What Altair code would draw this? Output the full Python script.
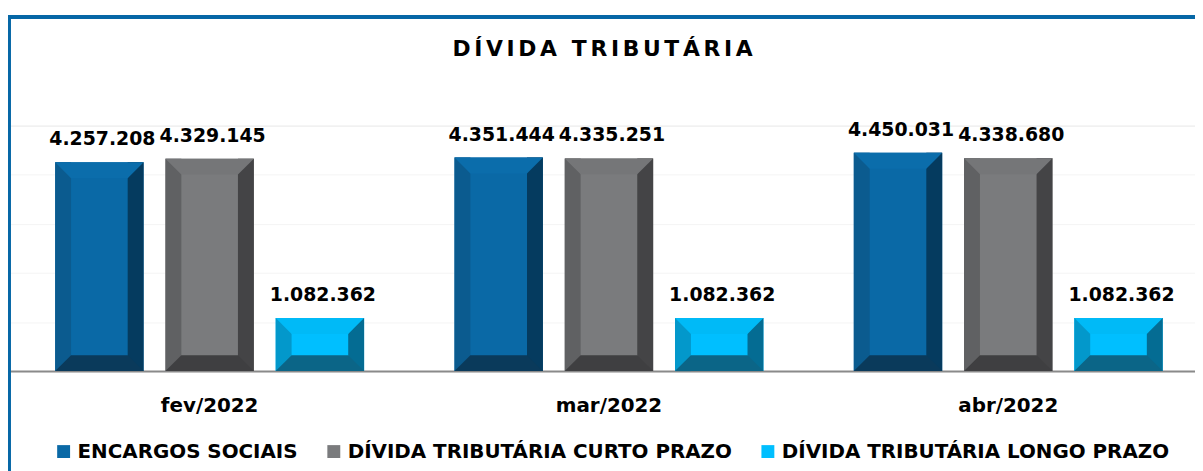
import altair as alt
import pandas as pd

# ---- data ----
months = ["fev/2022", "mar/2022", "abr/2022"]
series = ["ENCARGOS SOCIAIS", "DÍVIDA TRIBUTÁRIA CURTO PRAZO", "DÍVIDA TRIBUTÁRIA LONGO PRAZO"]
encargos_sociais = [4257208, 4351444, 4450031]
divida_curto = [4329145, 4335251, 4338680]
divida_longo = [1082362, 1082362, 1082362]
title_text = "DÍVIDA TRIBUTÁRIA"

values_by_series = [encargos_sociais, divida_curto, divida_longo]

rows = []
for s, vals in zip(series, values_by_series):
    for m, v in zip(months, vals):
        rows.append({"month": m, "series": s, "value": v,
                     "label": f"{v:,}".replace(",", ".")})
df = pd.DataFrame(rows)

# ---- style ----
FONT = "DejaVu Sans"
W, H = 1193, 247
YMAX = 5_000_000
BAR = 89
BEV = 16
center_col = ["#0A69A6", "#7A7B7D", "#00BFFF"]
left_col = ["#0B5B8F", "#606163", "#0398CB"]
right_col = ["#053B5F", "#444446", "#046C93"]
top_col = ["#0B6DAB", "#757678", "#00BAF7"]
bottom_col = ["#0A3A5B", "#3F3F41", "#0B6587"]
group_offsets = [-111, 0, 111]

xenc = alt.X("month:N", sort=months, title=None,
             scale=alt.Scale(domain=months, range=[0, 1206], paddingInner=0, paddingOuter=0),
             axis=alt.Axis(labelAngle=0, ticks=False, domainColor="#8A8A8A", domainWidth=2,
                           labelFont=FONT, labelFontSize=20, labelFontWeight="bold",
                           labelColor="#000000", labelPadding=25, grid=False))
yscale = alt.Scale(domain=[0, YMAX], nice=False)
yaxis = alt.Axis(values=[1_000_000, 2_000_000, 3_000_000, 4_000_000, 5_000_000],
                 labels=False, ticks=False, domain=False, grid=True,
                 gridColor="#F4F4F4", gridWidth=1, title=None)

top_path = "M -1 0 L 1 0 L 0.64 0.36 L -0.64 0.36 Z"
bot_path = "M -1 0 L 1 0 L 0.64 -0.36 L -0.64 -0.36 Z"

layers = []
for i, s in enumerate(series):
    off = group_offsets[i]
    base = alt.Chart(df).transform_filter(alt.datum.series == s).transform_calculate(
        zero="0")
    full = base.mark_bar(size=BAR, xOffset=off).encode(
        x=xenc,
        y=alt.Y("value:Q", scale=yscale, axis=yaxis),
        y2=alt.Y2("zero:Q"),
        color=alt.Color("series:N", scale=alt.Scale(domain=series, range=center_col),
                        legend=alt.Legend(title=None, orient="none", legendX=44, legendY=318,
                                          direction="horizontal", columns=3,
                                          symbolType="square", symbolSize=169,
                                          symbolStrokeWidth=0, symbolOpacity=1,
                                          labelFont=FONT, labelFontSize=20,
                                          labelFontWeight="bold", labelColor="#000000",
                                          labelOffset=4, columnPadding=26, padding=0,
                                          labelLimit=600)),
    )
    left = base.mark_bar(size=BEV, xOffset=off - (BAR - BEV) / 2, color=left_col[i]).encode(
        x=xenc, y=alt.Y("value:Q", scale=yscale, axis=yaxis), y2=alt.Y2("zero:Q"))
    right = base.mark_bar(size=BEV, xOffset=off + (BAR - BEV) / 2, color=right_col[i]).encode(
        x=xenc, y=alt.Y("value:Q", scale=yscale, axis=yaxis), y2=alt.Y2("zero:Q"))
    topb = base.mark_point(shape=top_path, size=BAR * BAR, filled=True, opacity=1,
                           strokeWidth=0, color=top_col[i], xOffset=off).encode(
        x=xenc, y=alt.Y("value:Q", scale=yscale, axis=yaxis))
    botb = base.mark_point(shape=bot_path, size=BAR * BAR, filled=True, opacity=1,
                           strokeWidth=0, color=bottom_col[i], xOffset=off).encode(
        x=xenc, y=alt.Y("zero:Q", scale=yscale, axis=yaxis))
    lab = base.mark_text(xOffset=off + 3, dy=-17, baseline="alphabetic", align="center",
                         font=FONT, fontSize=19, fontWeight="bold", color="#000000").encode(
        x=xenc, y=alt.Y("value:Q", scale=yscale, axis=yaxis), text="label:N")
    layers += [full, left, right, topb, botb, lab]

single = alt.Data(values=[{"t": "\u2006".join(list(title_text))}])
border_top = alt.Chart(single).mark_rule(color="#0667A6", strokeWidth=4).encode(
    x=alt.value(-4), x2=alt.value(1200), y=alt.value(-109.5))
border_left = alt.Chart(single).mark_rule(color="#0667A6", strokeWidth=4).encode(
    x=alt.value(-1), y=alt.value(-111.5), y2=alt.value(350))
title_mark = alt.Chart(single).mark_text(font=FONT, fontSize=22, fontWeight="bold",
                                         color="#000000", align="center",
                                         baseline="alphabetic").encode(
    x=alt.value(W / 2), y=alt.value(-70), text="t:N")
layers += [border_top, border_left, title_mark]

chart = alt.layer(*layers).properties(
    width=W, height=H,
    autosize="none",
    padding={"left": 2, "top": 117, "right": 0, "bottom": 99},
).configure_view(stroke=None).configure(background="#FFFFFF")

chart.save("out.html", embed_options={"renderer": "svg", "actions": False})
